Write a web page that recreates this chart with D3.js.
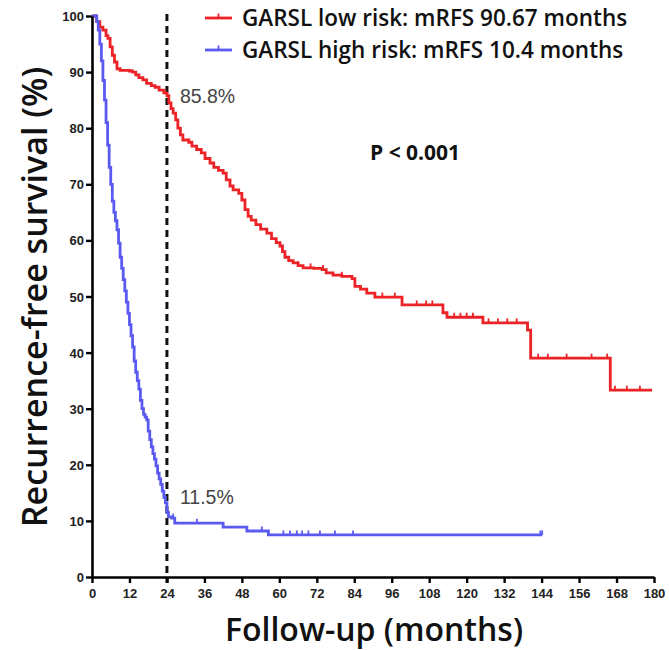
<!DOCTYPE html>
<html><head><meta charset="utf-8">
<script src="https://cdn.jsdelivr.net/npm/d3@7"></script>
<style>body{margin:0;background:#fff}svg{display:block}</style>
</head><body>
<svg id="chart" width="669" height="650"></svg>
<script>
// ---- data ----
const xTicks = [0,12,24,36,48,60,72,84,96,108,120,132,144,156,168,180];
const yTicks = [0,10,20,30,40,50,60,70,80,90,100];
const seriesNames = ["GARSL low risk: mRFS 90.67 months","GARSL high risk: mRFS 10.4 months"];
const lowRiskTime = [0,1.5,2.5,3.5,4.5,5.1,5.8,6.5,7.2,8,9,12,13,14,15,16.3,17.5,19,20.2,21.5,23,24,24.6,25.3,26,26.8,27.5,28.3,29.1,31,32,33.5,35,36.2,37.8,39,40.5,42,43,44.2,45.2,47,48,49,50,51,52.5,54,56,57.5,59,60.2,61,61.8,63,64.4,66,67.6,71,73.7,75,77.2,80,83.3,84.2,86,88,90.6,99.3,112.4,113.7,125.2,139.5,140.5,166,179.4];
const lowRiskSurv = [100,99,98,97.5,96.5,96,94.5,93,91.8,90.6,90.3,90.2,90,89.5,89,88.6,88,87.6,87.3,86.8,86.3,85.8,84.5,83.5,82.7,81.5,80,78.8,77.9,77.5,76.8,76.2,75.6,74.6,73.8,73,72.5,72,70.8,69.7,69,68.4,67.2,65.5,64.3,63.6,62.8,62,61.3,60.3,59.6,59,58,57,56.4,56,55.5,55.1,55,54.8,54.2,53.8,53.6,53.2,51.8,51.3,50.6,49.9,48.5,47.1,46.3,45.3,44,39,33.3,33.3];
const lowRiskCensor = [66,70,74,80,88,93,97,104,107,109,116,118,120,122,127,130,133,136,142.9,146,152,160,165,167.5,171.3,175.5];
const highRiskTime = [0,1,1.5,2,2.5,3,3.5,4,4.5,5,5.5,6,6.5,7,7.5,8,8.5,9,9.5,10,10.5,11,11.5,12,12.5,13,13.5,14,14.5,15,15.5,16,16.5,17,17.5,18,18.5,19,19.5,20,20.5,21,21.5,22,22.5,23,23.5,24,24.5,25.5,26.5,42,49.6,56.5,144.2];
const highRiskSurv = [100,100,99,97.5,95,92,88.5,85,81,77,73,70,67,65,63.5,61.9,59.5,57,55,53,51,49,47,45,43,41,38.5,36.5,35,33.5,31.5,30,29,28.5,28,26,24.5,23.2,22,21,19.8,18.5,17.5,16.5,15.3,14.2,13.2,11.5,10.7,10.5,9.6,8.9,8.2,7.5,7.5];
const highRiskCensor = [26,33.6,54.4,61.3,63.4,65.6,67.3,69.3,73,77.8,83.6,143.6,144.2];
const landmarkMonth = 24;
const landmarkLabels = ["85.8%","11.5%"];
const landmarkValues = [85.8,11.5];
const pText = "P < 0.001";
const colors = ["#ec2226","#5a5af0"];

// ---- drawing ----
const svg = d3.select("#chart");
const x = d3.scaleLinear().domain([0,180]).range([92,654]);
const y = d3.scaleLinear().domain([0,100]).range([577,16]);

const series = [
  {t: lowRiskTime, s: lowRiskSurv, c: lowRiskCensor, color: colors[0]},
  {t: highRiskTime, s: highRiskSurv, c: highRiskCensor, color: colors[1]}
];
function survAt(ser, tm){
  let v = ser.s[0];
  for(let i=0;i<ser.t.length;i++){ if(ser.t[i] <= tm) v = ser.s[i]; }
  return v;
}
const line = d3.line().x(d=>x(d[0])).y(d=>y(d[1])).curve(d3.curveStepAfter);

// dashed landmark line
svg.append("line").attr("x1",x(landmarkMonth)).attr("x2",x(landmarkMonth))
  .attr("y1",y(100)-2).attr("y2",y(0)+6).attr("stroke","#111").attr("stroke-width",3)
  .attr("stroke-dasharray","7,5");

series.forEach(ser=>{
  const pts = ser.t.map((t,i)=>[t, ser.s[i]]);
  svg.append("path").attr("d",line(pts)).attr("fill","none")
    .attr("stroke",ser.color).attr("stroke-width",2.8).attr("stroke-linejoin","miter");
  svg.append("g").selectAll("line").data(ser.c).join("line")
    .attr("x1",d=>x(d)).attr("x2",d=>x(d))
    .attr("y1",d=>y(survAt(ser,d))).attr("y2",d=>y(survAt(ser,d))-4.5)
    .attr("stroke",ser.color).attr("stroke-width",1.8);
});

// axes
const xAxis = d3.axisBottom(x).tickValues(xTicks).tickSize(6).tickSizeOuter(0).tickPadding(6);
const yAxis = d3.axisLeft(y).tickValues(yTicks).tickSize(6).tickSizeOuter(0).tickPadding(2);
const gx = svg.append("g").attr("transform",`translate(0,${y(0)})`).call(xAxis);
const gy = svg.append("g").attr("transform",`translate(${x(0)},0)`).call(yAxis);
[gx,gy].forEach(g=>{
  g.select(".domain").attr("stroke","#000").attr("stroke-width",2.6);
  g.selectAll(".tick line").attr("stroke","#000").attr("stroke-width",2.4);
  g.selectAll(".tick text").attr("fill","#222").style("font-family","'Liberation Sans',Arial,sans-serif")
    .style("font-weight","bold").style("font-size","13px");
});
gy.selectAll(".tick text").attr("dy","0.35em");

// axis titles
svg.append("text").attr("x",374).attr("y",641).attr("text-anchor","middle")
  .style("font-family","'Open Sans',sans-serif").style("font-weight","600").style("font-size","32px")
  .attr("fill","#111").text("Follow-up (months)");
svg.append("text").attr("transform","translate(47,297) rotate(-90)").attr("text-anchor","middle")
  .style("font-family","'Open Sans',sans-serif").style("font-weight","600").style("font-size","34px")
  .attr("fill","#111").text("Recurrence-free survival (%)");

// legend
seriesNames.forEach((nm,i)=>{
  const ly = 18 + i*32;
  svg.append("line").attr("x1",205).attr("x2",232).attr("y1",ly).attr("y2",ly)
    .attr("stroke",colors[i]).attr("stroke-width",2.8);
  svg.append("line").attr("x1",218.5).attr("x2",218.5).attr("y1",ly).attr("y2",ly-4.5)
    .attr("stroke",colors[i]).attr("stroke-width",1.8);
  svg.append("text").attr("x",242).attr("y",ly).attr("dy","0.35em")
    .style("font-family","'Open Sans',sans-serif").style("font-weight","600").style("font-size","22.5px")
    .attr("fill","#111").text(nm);
});

// landmark labels
landmarkLabels.forEach((lb,i)=>{
  svg.append("text").attr("x",x(landmarkMonth)+13).attr("y",y(landmarkValues[i])+(i===0?1:-15))
    .attr("dy","0.35em").style("font-family","'Liberation Sans',Arial,sans-serif").style("font-size","19.5px")
    .attr("fill","#444").text(lb);
});

// p value
svg.append("text").attr("x",370).attr("y",153).attr("dy","0.35em")
  .style("font-family","'Open Sans',sans-serif").style("font-weight","bold").style("font-size","21px")
  .attr("fill","#111").text(pText);
</script>
</body></html>
